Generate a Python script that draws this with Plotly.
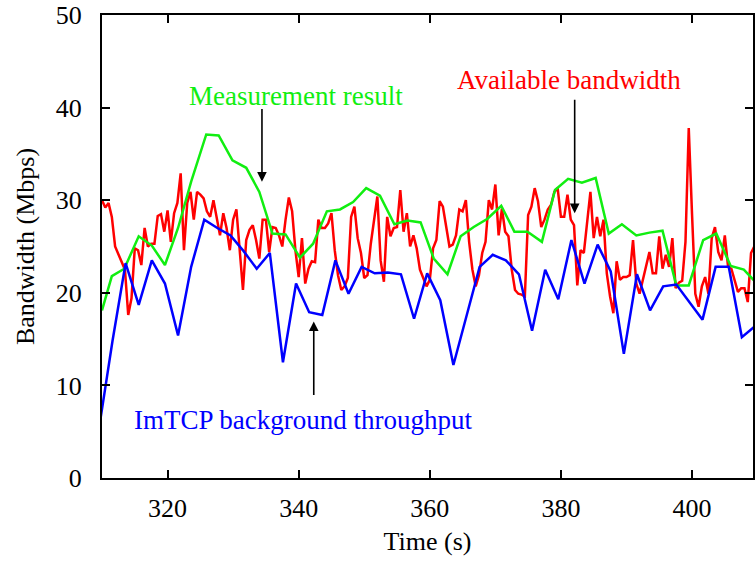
import plotly.graph_objects as go

# ---------------- data ----------------
# Available bandwidth (red), sampled every 0.5 s starting at t = 310 s
red_t0 = 310.0
red_dt = 0.5
red_bw = [
    30.0, 29.2, 29.7, 28.2, 25.0, 24.1, 23.4, 22.5, 17.6, 19.4,
    24.8, 24.6, 23.0, 27.0, 25.0, 25.3, 25.3, 28.3, 28.5, 26.6,
    28.9, 25.5, 28.6, 29.7, 32.9, 24.6, 29.7, 30.9, 27.9, 30.9,
    30.6, 30.2, 28.8, 28.2, 30.0, 28.0, 26.2, 28.6, 27.0, 24.6,
    27.9, 29.0, 25.0, 20.3, 25.7, 26.8, 27.3, 25.7, 23.7, 27.9,
    27.9, 24.4, 27.1, 27.0, 26.2, 25.0, 27.9, 30.3, 28.8, 24.6,
    21.7, 25.9, 21.0, 22.6, 23.4, 23.3, 27.9, 27.0, 27.0, 27.5,
    28.6, 24.6, 21.9, 20.3, 20.7, 21.6, 28.2, 29.3, 25.9, 24.3,
    21.6, 21.9, 25.3, 28.0, 30.4, 23.5, 21.2, 28.2, 26.1, 27.0,
    27.1, 31.1, 26.6, 28.6, 25.0, 26.2, 24.8, 22.5, 21.5, 20.7,
    21.4, 24.8, 25.7, 29.9, 29.3, 27.1, 25.0, 25.2, 26.2, 29.0,
    28.8, 30.0, 25.5, 22.5, 20.7, 21.9, 24.3, 25.5, 30.0, 29.0,
    31.7, 26.2, 29.1, 26.6, 26.1, 22.5, 20.3, 19.9, 19.8, 19.6,
    28.4, 29.3, 31.3, 29.9, 27.1, 27.9, 29.0, 29.5, 30.9, 31.3,
    28.2, 28.2, 30.6, 27.9, 27.3, 20.8, 24.6, 24.3, 27.5, 30.9,
    25.9, 28.2, 26.1, 27.9, 22.1, 19.6, 17.8, 23.4, 21.4, 21.7,
    21.7, 21.9, 25.7, 21.0, 19.9, 21.4, 22.8, 24.4, 22.1, 22.1,
    26.1, 22.6, 24.1, 22.8, 25.9, 20.5, 21.1, 21.3, 25.5, 37.8,
    28.5, 19.9, 18.5, 20.7, 21.7, 19.9, 25.9, 27.1, 24.4, 23.5,
    26.2, 22.8, 22.6, 21.4, 20.1, 20.5, 20.5, 19.0, 24.3, 25.0,
]
red_t = [red_t0 + red_dt * i for i in range(len(red_bw))]

# Measurement result (green)
green_t = [
    310.0, 311.5, 313.4, 315.6, 317.6, 319.6, 321.6, 323.6, 325.9, 327.8,
    329.9, 332.0, 334.0, 336.0, 338.0, 340.2, 342.2, 344.3, 346.3, 348.3,
    350.3, 352.4, 354.6, 356.6, 358.6, 360.6, 362.7, 364.7, 366.7, 368.8,
    370.9, 372.9, 374.9, 377.1, 379.1, 381.1, 383.2, 385.3, 387.3, 389.3,
    391.5, 393.5, 395.5, 397.6, 399.5, 401.7, 403.7, 405.9, 407.9, 409.9,
]
green_bw = [
    18.1, 21.8, 22.6, 26.1, 25.1, 23.0, 27.0, 32.0, 37.1, 37.0,
    34.3, 33.5, 30.9, 26.4, 26.3, 23.8, 25.3, 28.8, 29.0, 29.8,
    31.3, 30.5, 27.4, 27.8, 27.6, 23.7, 22.0, 26.1, 27.1, 28.0,
    29.4, 26.6, 26.6, 25.5, 31.1, 32.3, 31.9, 32.4, 26.4, 27.4,
    26.2, 26.5, 26.7, 20.8, 20.8, 25.7, 26.4, 22.9, 22.5, 21.0,
]

# ImTCP background throughput (blue)
blue_t = [
    309.6, 311.6, 313.6, 315.6, 317.6, 319.6, 321.6, 323.6, 325.6, 327.6,
    329.6, 331.6, 333.6, 335.6, 337.6, 339.6, 341.6, 343.6, 345.6, 347.6,
    349.6, 351.6, 353.6, 355.6, 357.6, 359.6, 361.6, 363.6, 365.6, 367.6,
    369.6, 371.6, 373.6, 375.6, 377.6, 379.6, 381.6, 383.6, 385.6, 387.6,
    389.6, 391.6, 393.6, 395.6, 397.6, 399.6, 401.6, 403.6, 405.6, 407.6,
    409.6,
]
blue_bw = [
    5.6, 14.8, 23.2, 18.7, 23.5, 21.0, 15.4, 22.8, 27.9, 27.0,
    26.2, 24.5, 22.6, 24.3, 12.5, 21.0, 17.9, 17.6, 23.5, 19.9,
    22.8, 22.1, 22.2, 22.0, 17.2, 22.1, 19.2, 12.2, 17.5, 22.8,
    24.1, 23.5, 22.0, 15.9, 22.5, 19.3, 25.7, 21.0, 25.2, 22.3,
    13.4, 22.0, 18.1, 20.7, 20.9, 19.0, 17.1, 22.8, 22.8, 15.2,
    16.4,
]

x_ticks = [320, 340, 360, 380, 400]
y_ticks = [0, 10, 20, 30, 40, 50]
x_range = [310, 409.3]
y_range = [0, 50]

FONT = "Liberation Serif, Times New Roman, serif"

fig = go.Figure()
fig.add_trace(go.Scatter(x=red_t, y=red_bw, mode="lines",
                         line=dict(color="#ff0000", width=2.5),
                         name="Available bandwidth", showlegend=False))
fig.add_trace(go.Scatter(x=green_t, y=green_bw, mode="lines",
                         line=dict(color="#11ee11", width=2.5),
                         name="Measurement result", showlegend=False))
fig.add_trace(go.Scatter(x=blue_t, y=blue_bw, mode="lines",
                         line=dict(color="#0000ff", width=2.5),
                         name="ImTCP background throughput", showlegend=False))

# text labels
fig.add_annotation(x=322.9, y=41.3, xref="x", yref="y", text="Measurement result",
                   showarrow=False, xanchor="left", yanchor="middle",
                   font=dict(family=FONT, size=27, color="#11ee11"))
fig.add_annotation(x=363.8, y=43.0, xref="x", yref="y", text="Available bandwidth",
                   showarrow=False, xanchor="left", yanchor="middle",
                   font=dict(family=FONT, size=27, color="#ff0000"))
fig.add_annotation(x=314.5, y=6.3, xref="x", yref="y", text="ImTCP background throughput",
                   showarrow=False, xanchor="left", yanchor="middle",
                   font=dict(family=FONT, size=27, color="#0000ff"))

# arrows
arrow_kw = dict(xref="x", yref="y", axref="x", ayref="y", text="", showarrow=True,
                arrowhead=2, arrowsize=1.2, arrowwidth=1.6, arrowcolor="black")
fig.add_annotation(x=334.4, y=32.0, ax=334.4, ay=40.0, **arrow_kw)
fig.add_annotation(x=382.1, y=28.6, ax=382.1, ay=41.0, **arrow_kw)
fig.add_annotation(x=342.3, y=16.9, ax=342.3, ay=8.8, **arrow_kw)

axis_common = dict(
    showline=True, linecolor="black", linewidth=2, mirror="ticks",
    ticks="inside", ticklen=8, tickwidth=1.5, tickcolor="black",
    showgrid=False, zeroline=False,
    tickfont=dict(family=FONT, size=26, color="black"),
)
fig.update_xaxes(range=x_range, tickvals=x_ticks,
                 title=dict(text="Time (s)", font=dict(family=FONT, size=26, color="black"), standoff=10),
                 ticklabelstandoff=6, **axis_common)
fig.update_yaxes(range=y_range, tickvals=y_ticks,
                 title=dict(text="Bandwidth (Mbps)", font=dict(family=FONT, size=26, color="black"), standoff=14),
                 ticklabelstandoff=13, **axis_common)

fig.update_layout(width=755, height=565, margin=dict(l=102, r=0, t=15, b=87),
                  plot_bgcolor="white", paper_bgcolor="white", showlegend=False)

fig.write_html("out.html")
